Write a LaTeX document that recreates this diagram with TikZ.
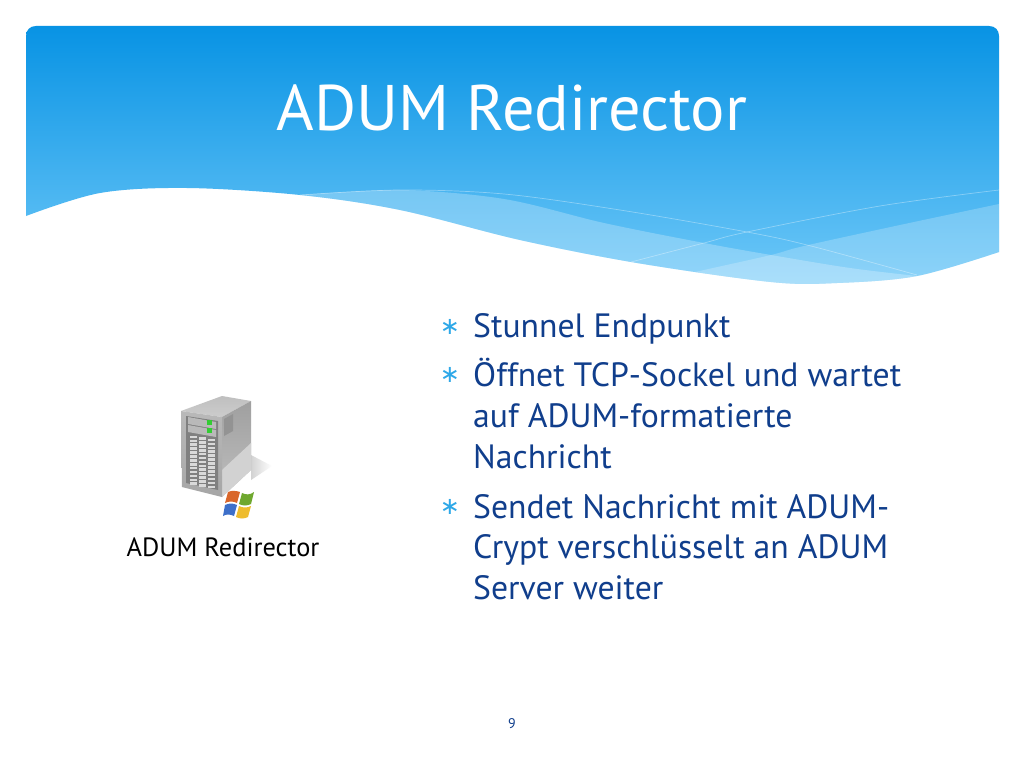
\documentclass[tikz,border=0pt]{standalone}
\usepackage{fontspec}
\setmainfont{PT Sans}
\newfontfamily\markfont{DejaVu Sans}
\usetikzlibrary{positioning}
\definecolor{slideblue}{RGB}{16,62,140}
\definecolor{bulletblue}{RGB}{46,168,232}
\definecolor{bandtop}{RGB}{8,147,228}
\definecolor{bandbottom}{RGB}{110,200,248}
\definecolor{flagred}{RGB}{217,102,42}
\definecolor{flaggreen}{RGB}{111,168,47}
\definecolor{flagblue}{RGB}{61,111,201}
\definecolor{flagyellow}{RGB}{238,188,46}
\tikzset{
  titletext/.style={anchor=base,text=white,font=\fontsize{64.4}{64.4}\selectfont,inner sep=0pt},
  bodyline/.style={anchor=base west,text=slideblue,font=\fontsize{33.7}{33.7}\selectfont,inner sep=0pt},
  bulletmark/.style={anchor=center,text=bulletblue,font=\markfont\fontsize{24}{24}\selectfont,inner sep=0pt},
  iconlabel/.style={anchor=base,text=black,font=\fontsize{26.4}{26.4}\selectfont,inner sep=0pt},
  pagenumber/.style={anchor=base,text=slideblue,font=\fontsize{14}{14}\selectfont,inner sep=0pt},
  faintline/.style={draw=white,draw opacity=0.35,line width=0.7pt}
}
\begin{document}
\begin{tikzpicture}[x=1pt,y=-1pt]
\useasboundingbox (0,0) rectangle (1024,768);
\fill [white] (0,0) rectangle (1024,768);

% blue band with the wave below
\begin{scope}
  \clip (26,36) .. controls (26,30) and (30,26) .. (36,26) -- (989,26)
    .. controls (995,26) and (999,30) .. (999,36)
    -- plot [smooth,tension=0.55] coordinates {(999,252) (917,276) (837,283) (771,282) (637,263) (520,240) (400,210) (300,195) (187,188) (100,193) (26,216)}
    -- cycle;
  \shade [top color=bandtop,bottom color=bandbottom] (0,26) rectangle (1024,284);
  % lighter layers
  \fill [white,opacity=0.25] plot [smooth,tension=0.55] coordinates {(300,195) (400,190) (504,199) (604,223) (704,243) (771,255) (850,268) (917,276)}
    -- (917,300) -- (300,300) -- cycle;
  \fill [white,opacity=0.22] plot [smooth,tension=0.55] coordinates {(999,204) (900,225) (804,246) (771,255) (704,270) (660,280)}
    -- (660,300) -- (999,300) -- cycle;
  % thin lines
  \draw [faintline] plot [smooth,tension=0.55] coordinates {(300,195) (400,190) (504,194) (620,210) (747,232) (811,246) (917,275)};
  \draw [faintline] plot [smooth,tension=0.55] coordinates {(999,190) (880,206) (747,232) (704,243) (631,262)};
\end{scope}

\node [titletext] (title) at (512,130) {ADUM Redirector};

% text on the right
\foreach \mark/\ypos in {m1/327,m2/375,m3/507}
  \node [bulletmark] (\mark) at (450,\ypos) {∗};
\foreach \row/\ypos/\words in {
  a/337/Stunnel Endpunkt,
  b/386/Öffnet TCP-Sockel und wartet,
  c/427/auf ADUM-formatierte,
  d/468/Nachricht,
  e/518/Sendet Nachricht mit ADUM-,
  f/558/Crypt verschlüsselt an ADUM,
  g/599/Server weiter}
  \node [bodyline] (line\row) at (473,\ypos) {\words};

% server icon
\shade [left color=gray!35,right color=white] (251,455) -- (272,466) -- (251,480) -- cycle;
\shade [top color=gray!50,bottom color=gray!40] (181,411) -- (222,396) -- (251,401) -- (222,417) -- cycle;
\shade [top color=gray!75,bottom color=gray!50] (222,417) -- (251,401) -- (251,470) -- (222,497) -- cycle;
\fill [gray!35] (222,470) -- (251,443) -- (251,470) -- (222,497) -- cycle;
\fill [gray!85] (224,419) -- (233,414) -- (233,431) -- (224,436) -- cycle;
\shade [top color=gray!55,bottom color=gray!70] (181,411) -- (222,417) -- (222,497) -- (182,487) -- cycle;
\fill [black!50] (186,416) -- (218,421) -- (218,490) -- (186,483) -- cycle;
\fill [gray!55] (188,417) -- (216,422) -- (216,429) -- (188,424) -- cycle;
\fill [gray!55] (188,425) -- (216,430) -- (216,437) -- (188,432) -- cycle;
\fill [green!60!gray] (207,420) rectangle (212,425);
\fill [green!60!gray] (207,428) rectangle (212,433);
\foreach \col/\xa/\xb/\sl in {0/190/197/0,1/199/206/0,2/208/215/0}
  \foreach \k in {0,...,12}
    \fill [gray!30] (\xa,{435+\k*3.9+(\xa-186)*0.17}) rectangle (\xb,{437.6+\k*3.9+(\xa-186)*0.17});

% windows flag
\fill [flagred] (228,492) .. controls (232,490) and (237,491) .. (240,492) -- (237,503) .. controls (233,501) and (229,501) .. (225,503) -- cycle;
\fill [flaggreen] (242,493) .. controls (246,495) and (250,495) .. (254,492) -- (251,504) .. controls (247,506) and (243,506) .. (239,504) -- cycle;
\fill [flagblue] (225,505) .. controls (229,503) and (233,503) .. (237,505) -- (234,516) .. controls (230,514) and (226,514) .. (223,516) -- cycle;
\fill [flagyellow] (239,506) .. controls (243,508) and (247,508) .. (251,506) -- (248,517) .. controls (244,519) and (240,519) .. (236,517) -- cycle;

\node [iconlabel] (serverlabel) at (223,556) {ADUM Redirector};
\node [pagenumber] (pagenum) at (512,728) {9};
\end{tikzpicture}
\end{document}
